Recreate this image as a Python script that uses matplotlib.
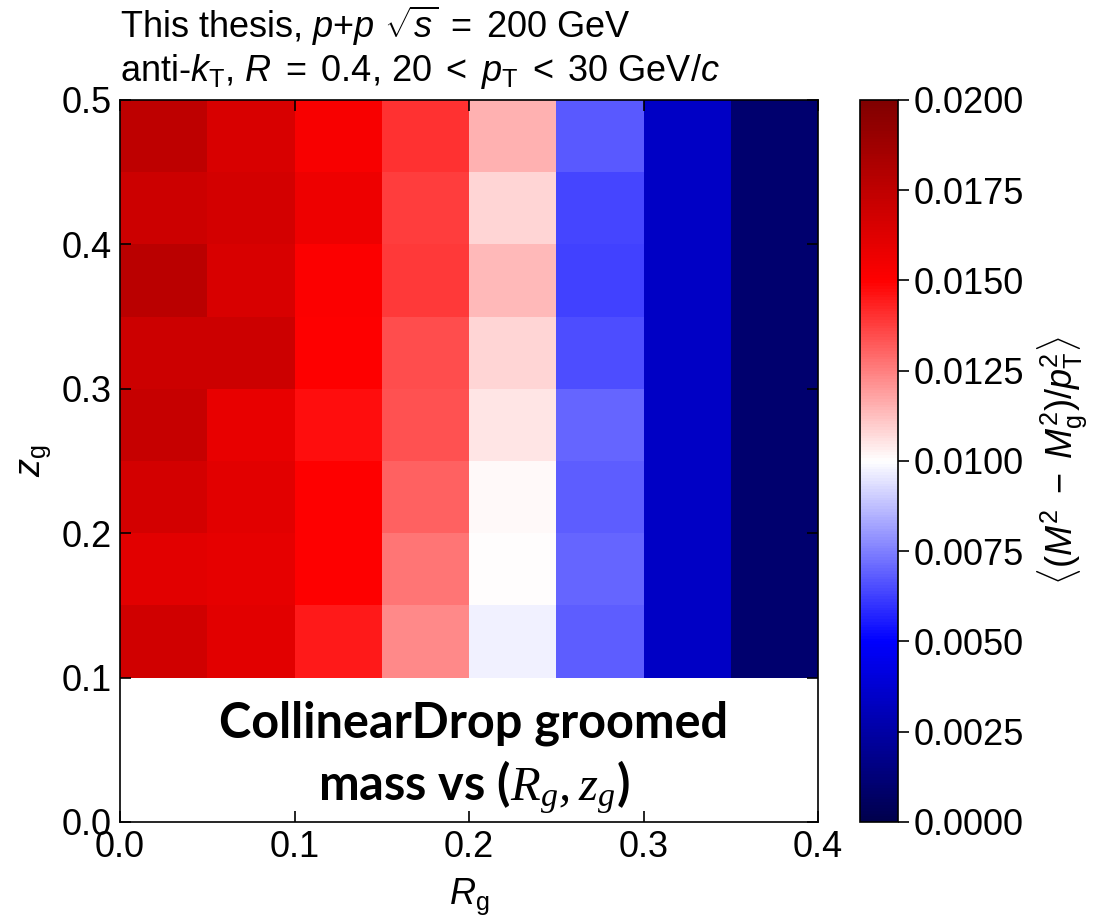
import numpy as np
import matplotlib
matplotlib.use('Agg')
import matplotlib.pyplot as plt

# bin edges
rg_edges = [0.0, 0.05, 0.10, 0.15, 0.20, 0.25, 0.30, 0.35, 0.40]
zg_edges = [0.10, 0.15, 0.20, 0.25, 0.30, 0.35, 0.40, 0.45, 0.50]

# <(M^2 - Mg^2)/pT^2>, rows = zg bins (low -> high), columns = Rg bins
mass_diff = np.array([
    [0.0168, 0.0161, 0.0145, 0.01233, 0.0097, 0.0068, 0.0034, 0.0010],   # 0.10-0.15
    [0.0161, 0.0160, 0.0150, 0.0127, 0.0100, 0.00696, 0.0034, 0.0010],   # 0.15-0.20
    [0.0167, 0.0161, 0.0150, 0.01305, 0.01015, 0.0068, 0.0034, 0.0010],  # 0.20-0.25
    [0.0172, 0.0159, 0.01469, 0.0134, 0.0105, 0.00696, 0.0034, 0.0010],  # 0.25-0.30
    [0.0170, 0.0170, 0.0150, 0.01347, 0.01085, 0.0065, 0.0034, 0.0010],  # 0.30-0.35
    [0.0177, 0.0165, 0.0151, 0.0139, 0.0114, 0.00625, 0.0034, 0.0010],   # 0.35-0.40
    [0.0170, 0.0167, 0.0157, 0.0138, 0.01085, 0.00633, 0.0034, 0.0010],  # 0.40-0.45
    [0.0175, 0.0165, 0.0153, 0.0140, 0.01155, 0.00673, 0.0034, 0.0010],  # 0.45-0.50
])

cbar_ticks = [0.0, 0.0025, 0.005, 0.0075, 0.01, 0.0125, 0.015, 0.0175, 0.02]

plt.rcParams['font.family'] = ['Liberation Sans', 'DejaVu Sans']
plt.rcParams['mathtext.fontset'] = 'custom'
plt.rcParams['mathtext.rm'] = 'Liberation Sans'
plt.rcParams['mathtext.it'] = 'Liberation Sans:italic'
plt.rcParams['mathtext.bf'] = 'Liberation Sans:bold'
plt.rcParams['mathtext.sf'] = 'Liberation Serif:italic'

fig = plt.figure(figsize=(10.97, 9.21), dpi=100)
ax = fig.add_axes([0.1094, 0.1075, 0.6363, 0.784])
cax = fig.add_axes([0.784, 0.1075, 0.0346, 0.784])

mesh = ax.pcolormesh(rg_edges, zg_edges, mass_diff, cmap='seismic',
                     vmin=0.0, vmax=0.02)
ax.set_xlim(0.0, 0.4)
ax.set_ylim(0.0, 0.5)
ax.set_xticks([0.0, 0.1, 0.2, 0.3, 0.4])
ax.set_yticks([0.0, 0.1, 0.2, 0.3, 0.4, 0.5])
ax.tick_params(direction='in', top=True, right=True, length=8, width=1.2,
               labelsize=26, pad=6)
for s in ax.spines.values():
    s.set_linewidth(1.2)
ax.set_xlabel(r'$R_{\mathrm{g}}$', fontsize=26, labelpad=8)
ax.set_ylabel(r'$z_{\mathrm{g}}$', fontsize=26, labelpad=6)

cb = fig.colorbar(mesh, cax=cax, ticks=cbar_ticks)
cb.ax.set_yticklabels(['%.4f' % t for t in cbar_ticks])
cb.ax.tick_params(labelsize=26, length=8, width=1.2)
cb.outline.set_linewidth(1.2)
cb.set_label(r'$\langle(M^2\;-\;M_{\mathrm{g}}^2)/p_{\mathrm{T}}^2\rangle$',
             fontsize=26, labelpad=8)

# header lines
ax.text(0.0, 1.072, r'This thesis, $p$+$p$ $\sqrt{s}\;=\;200$ GeV',
        transform=ax.transAxes, fontsize=26, ha='left', va='bottom')
ax.text(0.0, 1.012,
        r'anti-$k_{\mathrm{T}}$, $R\;=\;0.4$, $20\;<\;p_{\mathrm{T}}\;<\;30$ GeV/$c$',
        transform=ax.transAxes, fontsize=26, ha='left', va='bottom')

# label in the empty low-zg band
ax.text(0.507, 0.088, 'CollinearDrop groomed\nmass vs ($\\mathsf{R_g, z_g}$)',
        transform=ax.transAxes, family=['Lato', 'DejaVu Sans'], fontweight='bold',
        fontsize=35, ha='center', va='center', linespacing=1.3)

fig.savefig('out.png', dpi=100)
